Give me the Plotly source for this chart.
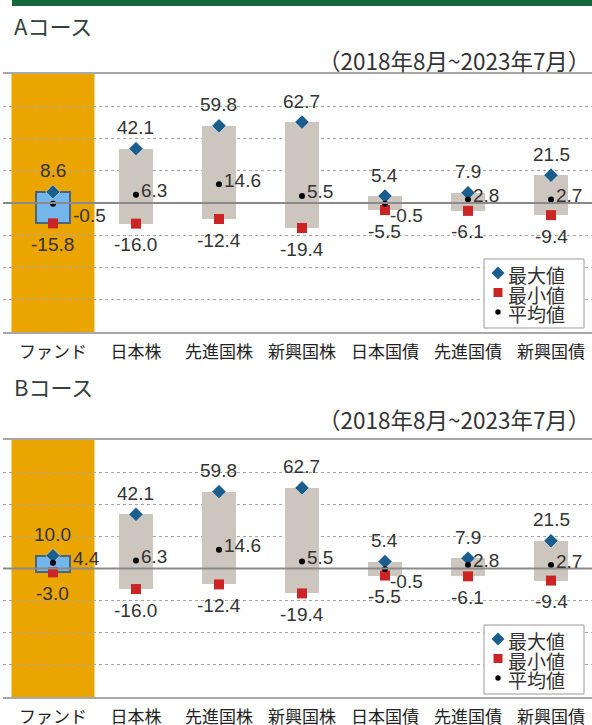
import plotly.graph_objects as go

# ---------------- data ----------------
categories = ["ファンド", "日本株", "先進国株", "新興国株", "日本国債", "先進国債", "新興国債"]

a_max = [8.6, 42.1, 59.8, 62.7, 5.4, 7.9, 21.5]
a_min = [-15.8, -16.0, -12.4, -19.4, -5.5, -6.1, -9.4]
a_mean = [-0.5, 6.3, 14.6, 5.5, -0.5, 2.8, 2.7]

b_max = [10.0, 42.1, 59.8, 62.7, 5.4, 7.9, 21.5]
b_min = [-3.0, -16.0, -12.4, -19.4, -5.5, -6.1, -9.4]
b_mean = [4.4, 6.3, 14.6, 5.5, -0.5, 2.8, 2.7]

panel_titles = ["Aコース", "Bコース"]
period_label = "（2018年8月~2023年7月）"
legend_labels = ["最大値", "最小値", "平均値"]
y_gridvals = [-75, -50, -25, 25, 50, 75]

# ---------------- styles ----------------
W, H = 592, 725
C_MAX = "#1b5e8e"
C_MIN = "#cc2424"
C_MEAN = "#000000"
C_BOX = "#cdc6be"
C_FUND_BOX = "#72b6ec"
C_FUND_EDGE = "#4b6476"
C_ORANGE = "#eaa500"
C_GREEN = "#15683a"
NUM_FONT = "Liberation Sans, Arial, sans-serif"
JP_FONT = "Noto Sans CJK JP, sans-serif"
TXT = "#333333"

fund_idx = categories.index("ファンド")


def px(xp):
    return xp / W


def py(yp):
    return 1 - yp / H


fig = go.Figure()

panels = [
    dict(xa="x", ya="y", mx=a_max, mn=a_min, me=a_mean, top=74),
    dict(xa="x2", ya="y2", mx=b_max, mn=b_min, me=b_mean, top=440),
]

annotations = []
shapes = []

for p in panels:
    mx, mn, me = p["mx"], p["mn"], p["me"]
    box_colors = [C_FUND_BOX if i == fund_idx else C_BOX for i in range(len(categories))]
    edge_colors = [C_FUND_EDGE if i == fund_idx else C_BOX for i in range(len(categories))]
    edge_w = [2 if i == fund_idx else 0 for i in range(len(categories))]
    fig.add_trace(go.Bar(
        x=categories, y=[a - b for a, b in zip(mx, mn)], base=mn,
        width=0.4, marker=dict(color=box_colors, line=dict(color=edge_colors, width=edge_w)),
        xaxis=p["xa"], yaxis=p["ya"], showlegend=False, hoverinfo="skip"))
    fig.add_trace(go.Scatter(
        x=categories, y=mx, mode="markers", name="最大値",
        marker=dict(symbol="diamond", size=11, color=C_MAX, line=dict(color="white", width=0.5)),
        xaxis=p["xa"], yaxis=p["ya"], showlegend=False))
    fig.add_trace(go.Scatter(
        x=categories, y=mn, mode="markers", name="最小値",
        marker=dict(symbol="square", size=10, color=C_MIN),
        xaxis=p["xa"], yaxis=p["ya"], showlegend=False))
    fig.add_trace(go.Scatter(
        x=categories, y=me, mode="markers", name="平均値",
        marker=dict(symbol="circle", size=6, color=C_MEAN),
        xaxis=p["xa"], yaxis=p["ya"], showlegend=False))

    # value labels
    for i, c in enumerate(categories):
        annotations.append(dict(
            x=c, y=mx[i], xref=p["xa"], yref=p["ya"], text=f"{mx[i]:.1f}", showarrow=False,
            xanchor="center", yanchor="middle", yshift=21,
            font=dict(family=NUM_FONT, size=19, color=TXT)))
        annotations.append(dict(
            x=c, y=mn[i], xref=p["xa"], yref=p["ya"], text=f"{mn[i]:.1f}", showarrow=False,
            xanchor="center", yanchor="middle", yshift=-21,
            font=dict(family=NUM_FONT, size=19, color=TXT)))
        annotations.append(dict(
            x=c, y=me[i], xref=p["xa"], yref=p["ya"], text=f"{me[i]:.1f}", showarrow=False,
            xanchor="left", yanchor="middle",
            xshift=18 if i == fund_idx else 3,
            yshift=-12 if me[i] < 0 else 4,
            font=dict(family=NUM_FONT, size=19, color=TXT)))

    # orange fund band
    shapes.append(dict(type="rect", xref=p["xa"], yref=p["ya"] + " domain",
                       x0=fund_idx - 0.5, x1=fund_idx + 0.5, y0=0, y1=1,
                       fillcolor=C_ORANGE, line=dict(width=0), layer="below"))
    # zero line drawn over the boxes
    shapes.append(dict(type="line", xref=p["xa"] + " domain", yref=p["ya"],
                       x0=0, x1=1, y0=0, y1=0, line=dict(color="#8a8a8a", width=2), layer="above"))

    # legend (box, symbol samples, labels)
    off = p["top"] - 74
    shapes.append(dict(type="rect", xref="paper", yref="paper",
                       x0=px(484), x1=px(584), y0=py(259 + off), y1=py(328 + off),
                       fillcolor="white", line=dict(color="#9a9a9a", width=1), layer="above"))
    mxp, r1, r2, r3 = 498, 273 + off, 292.5 + off, 312 + off
    d = 6.5
    shapes.append(dict(type="path", xref="paper", yref="paper", layer="above",
                       path=(f"M{px(mxp - d)},{py(r1)} L{px(mxp)},{py(r1 - d)} "
                             f"L{px(mxp + d)},{py(r1)} L{px(mxp)},{py(r1 + d)} Z"),
                       fillcolor=C_MAX, line=dict(width=0)))
    shapes.append(dict(type="rect", xref="paper", yref="paper", layer="above",
                       x0=px(mxp - 4.5), x1=px(mxp + 4.5), y0=py(r2 + 4.5), y1=py(r2 - 4.5),
                       fillcolor=C_MIN, line=dict(width=0)))
    shapes.append(dict(type="circle", xref="paper", yref="paper", layer="above",
                       x0=px(mxp - 2.7), x1=px(mxp + 2.7), y0=py(r3 + 2.7), y1=py(r3 - 2.7),
                       fillcolor=C_MEAN, line=dict(width=0)))
    leg_text = "<br>".join(f'<span style="font-size:19px">{t}</span>' for t in legend_labels)
    annotations.append(dict(x=px(506), y=py(r2 + 1), xref="paper", yref="paper", text=leg_text,
                            showarrow=False, xanchor="left", yanchor="middle", align="left",
                            font=dict(family=JP_FONT, size=15, color=TXT)))

# titles
title_y = [25, 386]
period_y = [60, 419]
for t, ty, pyy in zip(panel_titles, title_y, period_y):
    annotations.append(dict(x=px(12), y=py(ty), xref="paper", yref="paper", text=t, showarrow=False,
                            xanchor="left", yanchor="middle",
                            font=dict(family=JP_FONT, size=22, color="#34403b")))
    annotations.append(dict(x=1, y=py(pyy), xref="paper", yref="paper", text=period_label,
                            showarrow=False, xanchor="right", yanchor="middle",
                            font=dict(family=JP_FONT, size=22.5, color=TXT)))

# green header bar
shapes.append(dict(type="rect", xref="paper", yref="paper", x0=px(12), x1=1, y0=py(6), y1=1,
                   fillcolor=C_GREEN, line=dict(width=0)))

x_range = [-0.602, 6.494]
xcommon = dict(type="category", categoryorder="array", categoryarray=categories, range=x_range,
               domain=[3 / W, 1], showline=True, mirror=True, linecolor="#a8a8a8", linewidth=2,
               showgrid=False, zeroline=False, ticks="", ticklabelstandoff=4, automargin=False,
               tickfont=dict(family=JP_FONT, size=17, color="#222222"), fixedrange=True)
ycommon = dict(range=[-100, 100], tickvals=y_gridvals, showticklabels=False, showgrid=True,
               gridcolor="#a5a5a5", gridwidth=1, griddash="dot", zeroline=False, showline=False,
               fixedrange=True, automargin=False)

fig.update_layout(
    width=W, height=H, margin=dict(l=0, r=0, t=0, b=0, autoexpand=False),
    paper_bgcolor="white", plot_bgcolor="white",
    xaxis=dict(xcommon, anchor="y"),
    yaxis=dict(ycommon, anchor="x", domain=[1 - 332 / H, 1 - 74 / H]),
    xaxis2=dict(xcommon, anchor="y2"),
    yaxis2=dict(ycommon, anchor="x2", domain=[1 - 697 / H, 1 - 440 / H]),
    annotations=annotations, shapes=shapes, showlegend=False, bargap=0,
)

fig.write_html(
    "out.html",
    config={"displayModeBar": False},
    post_script="document.body.style.margin='0';document.body.style.overflow='hidden';",
)
